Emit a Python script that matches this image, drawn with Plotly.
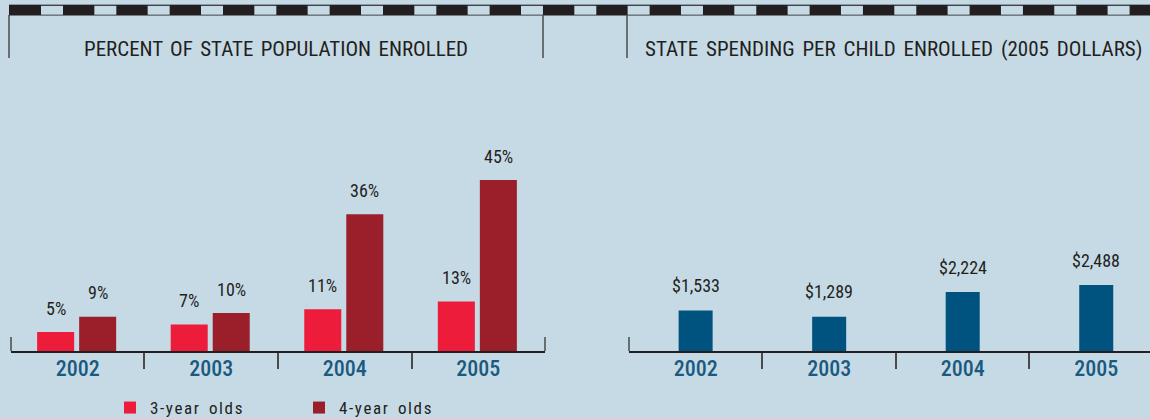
import plotly.graph_objects as go

W, H = 1150, 419

# ---- data ----
years = ["2002", "2003", "2004", "2005"]
pct_3yr = [5, 7, 11, 13]
pct_4yr = [9, 10, 36, 45]
pct_3yr_labels = ["5%", "7%", "11%", "13%"]
pct_4yr_labels = ["9%", "10%", "36%", "45%"]
spending = [1533, 1289, 2224, 2488]
spending_labels = ["$1,533", "$1,289", "$2,224", "$2,488"]
title_left = "PERCENT OF STATE POPULATION ENROLLED"
title_right = "STATE SPENDING PER CHILD ENROLLED (2005 DOLLARS)"
legend_names = ["3-year olds", "4-year olds"]

# ---- style ----
BG = "#c6dae6"
RED = "#ed1c3a"
DARK_RED = "#9b1f2b"
BLUE = "#00527f"
YEAR_BLUE = "#1b5a80"
TEXT = "#231f20"
FONT = "Roboto Condensed, DejaVu Sans Condensed, sans-serif"


def spaced(t, ls=0.0, ws=0.0):
    return '<span style="letter-spacing:%spx;word-spacing:%spx">%s</span>' % (ls, ws, t)


def px_x(p):
    return p / W


def px_y(p):
    return (H - p) / H


CAT_PX = 133.5
BASE = 351
TOP = 60
RED_SHIFT, DARK_SHIFT = -22, 20

fig = go.Figure()

bw = 37 / CAT_PX
fig.add_trace(go.Bar(x=years, y=pct_3yr, name=spaced(legend_names[0], 1.6, 3),
                     marker=dict(color=RED, line=dict(width=0)),
                     width=bw, offset=(RED_SHIFT - 18.5) / CAT_PX, xaxis="x", yaxis="y", hoverinfo="skip"))
fig.add_trace(go.Bar(x=years, y=pct_4yr, name=spaced(legend_names[1], 1.6, 3),
                     marker=dict(color=DARK_RED, line=dict(width=0)),
                     width=bw, offset=(DARK_SHIFT - 18.5) / CAT_PX, xaxis="x", yaxis="y", hoverinfo="skip"))
bw2 = 34 / CAT_PX
fig.add_trace(go.Bar(x=years, y=spending, name="spending", marker=dict(color=BLUE, line=dict(width=0)),
                     width=bw2, offset=-bw2 / 2, xaxis="x2", yaxis="y2", showlegend=False, hoverinfo="skip"))

lab_font = dict(size=18, color=TEXT, family=FONT)
ann = []
for i in range(len(years)):
    ann.append(dict(x=i, y=pct_3yr[i], xref="x", yref="y", text=pct_3yr_labels[i], showarrow=False,
                    xshift=RED_SHIFT, yshift=24, font=lab_font))
    ann.append(dict(x=i, y=pct_4yr[i], xref="x", yref="y", text=pct_4yr_labels[i], showarrow=False,
                    xshift=DARK_SHIFT, yshift=24, font=lab_font))
    ann.append(dict(x=i, y=spending[i], xref="x2", yref="y2", text=spending_labels[i], showarrow=False,
                    yshift=25, font=lab_font))

title_font = dict(size=21, color=TEXT, family=FONT)
ann.append(dict(x=px_x(276), y=px_y(49), xref="paper", yref="paper", showarrow=False,
                text=spaced(title_left, 0, 2.5), font=title_font, xanchor="center", yanchor="middle"))
ann.append(dict(x=px_x(893), y=px_y(49), xref="paper", yref="paper", showarrow=False,
                text=spaced(title_right, 0, 3), font=title_font, xanchor="center", yanchor="middle"))

shapes = []
# top stripe
shapes.append(dict(type="rect", xref="paper", yref="paper", x0=px_x(9), x1=1, y0=px_y(15.5), y1=px_y(5),
                   fillcolor="#231f20", line=dict(width=0), layer="below"))
shapes.append(dict(type="line", xref="paper", yref="paper", x0=px_x(9), x1=1, y0=px_y(4.5), y1=px_y(4.5),
                   line=dict(color="#8a9aa6", width=1)))
k = 0
while 41 + k * 53.33 < W:
    x0 = 41 + k * 53.33
    shapes.append(dict(type="rect", xref="paper", yref="paper", x0=px_x(x0), x1=px_x(min(x0 + 22, W)),
                       y0=px_y(14.7), y1=px_y(5.8), fillcolor=BG, line=dict(width=0), layer="below"))
    k += 1
# vertical separators at top
for xv in (9, 543, 627):
    shapes.append(dict(type="line", xref="paper", yref="paper", x0=px_x(xv), x1=px_x(xv),
                       y0=px_y(15), y1=px_y(58), line=dict(color="#4a4a4a", width=1.5)))
# up ticks at axis ends
for xv in (11, 545, 629):
    shapes.append(dict(type="line", xref="paper", yref="paper", x0=px_x(xv), x1=px_x(xv),
                       y0=px_y(351), y1=px_y(337), line=dict(color="#4a4a4a", width=1.5)))

xaxis_common = dict(type="category", showgrid=False, zeroline=False, showline=True, linecolor="#231f20",
                    linewidth=1.5, ticks="outside", tickson="boundaries", ticklen=16, tickwidth=1.5,
                    tickcolor="#4a4a4a", tickfont=dict(size=22, color=YEAR_BLUE, family=FONT, weight=500),
                    ticklabelstandoff=-3, fixedrange=True, automargin=False)
ydom = [px_y(BASE), px_y(TOP)]

fig.update_layout(
    width=W, height=H, margin=dict(l=0, r=0, t=0, b=0, autoexpand=False),
    paper_bgcolor=BG, plot_bgcolor=BG,
    barmode="overlay",
    xaxis=dict(domain=[px_x(11), px_x(545)], range=[-0.499, 3.499], anchor="y", **xaxis_common),
    xaxis2=dict(domain=[px_x(629), 1], range=[-0.499, -0.5 + (W - 629) / CAT_PX], anchor="y2", **xaxis_common),
    yaxis=dict(domain=ydom, range=[0, (BASE - TOP) / 3.8], visible=False, fixedrange=True),
    yaxis2=dict(domain=ydom, range=[0, (BASE - TOP) / 0.0265], visible=False, anchor="x2", fixedrange=True),
    annotations=ann,
    shapes=shapes,
    showlegend=True,
    legend=dict(orientation="h", x=px_x(110), y=px_y(408), xanchor="left", yanchor="middle",
                bgcolor="rgba(0,0,0,0)", entrywidth=144, entrywidthmode="pixels",
                font=dict(size=17, color=TEXT, family=FONT), traceorder="normal"),
)

fig.write_html("out.html", config={"displayModeBar": False},
               post_script="document.body.style.margin='0';document.body.style.overflow='hidden';")
